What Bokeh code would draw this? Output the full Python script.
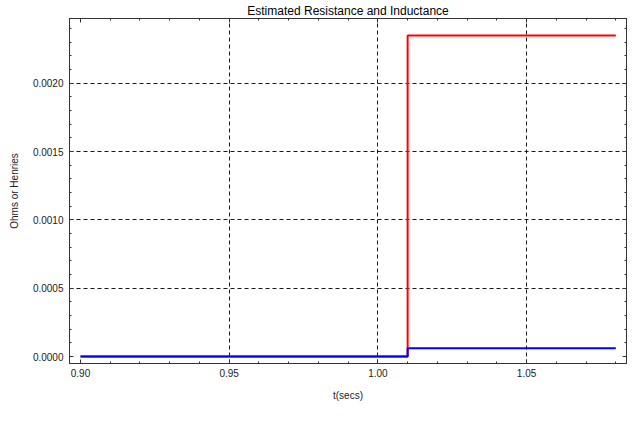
from bokeh.plotting import figure
from bokeh.models import (LinearAxis, FixedTicker, NumeralTickFormatter, Range1d,
                          Legend, LegendItem, ColumnDataSource)
from bokeh.embed import file_html
from bokeh.resources import INLINE

# ---- data ----
t = [0.90, 1.01, 1.08]
R = [0.0, 0.00235, 0.00235]
L = [0.0, 0.00006, 0.00006]

x_major = [0.90, 0.95, 1.00, 1.05]
x_minor = [round(0.90 + 0.01 * i, 2) for i in range(-1, 19)]
y_major = [0.0, 0.0005, 0.0010, 0.0015, 0.0020]
y_minor = [round(0.0001 * i, 4) for i in range(-1, 26)]
x_grid = [0.95, 1.00, 1.05]
y_grid = [0.0005, 0.0010, 0.0015, 0.0020]

FONT = "Liberation Sans"
AX_COLOR = "#333333"

p = figure(frame_width=557, frame_height=345, output_backend="svg", toolbar_location=None,
           x_range=Range1d(0.8963, 1.0836), y_range=Range1d(-0.0000512, 0.002474),
           min_border_left=69, min_border_right=6, min_border_top=18, min_border_bottom=0,
           x_axis_label="t(secs)", y_axis_label="Ohms or Henries")
p.background_fill_color = "white"
p.border_fill_color = "white"
p.outline_line_color = AX_COLOR

p.title.text = "Estimated Resistance and Inductance"
p.title.align = "center"
p.title.text_font = FONT
p.title.text_font_size = "12px"
p.title.text_font_style = "normal"
p.title.text_color = "black"
p.title.standoff = 2

src = ColumnDataSource(dict(t=t, R=R, L=L))
rR = p.step("t", "R", source=src, mode="after", line_color="#ff0000", line_width=2)
rL = p.step("t", "L", source=src, mode="after", line_color="#0000ff", line_width=2)


def style_axis(ax, ticks, minor, fmt, show_labels=True):
    ax.ticker = FixedTicker(ticks=ticks, minor_ticks=minor)
    ax.formatter = NumeralTickFormatter(format=fmt)
    ax.major_tick_in = 4
    ax.major_tick_out = 0
    ax.minor_tick_in = 2
    ax.minor_tick_out = 0
    ax.axis_line_color = AX_COLOR
    ax.major_tick_line_color = AX_COLOR
    ax.minor_tick_line_color = AX_COLOR
    ax.major_label_text_font = FONT
    ax.major_label_text_color = "#222222"
    ax.axis_label_text_font = FONT
    ax.axis_label_text_font_style = "normal"
    ax.axis_label_text_color = "#222222"
    if show_labels:
        ax.major_label_text_font_size = "10px"
        ax.axis_label_text_font_size = "10px"
    else:
        ax.major_label_text_alpha = 0
        ax.major_label_text_font_size = "1px"
        ax.major_label_standoff = 0


style_axis(p.xaxis[0], x_major, x_minor, "0.00")
style_axis(p.yaxis[0], y_major, y_minor, "0.0000")
p.xaxis[0].major_label_standoff = 5
p.xaxis[0].axis_label_standoff = 10
p.yaxis[0].major_label_standoff = 6
p.yaxis[0].axis_label_standoff = 10

top = LinearAxis()
style_axis(top, x_major, x_minor, "0.00", show_labels=False)
p.add_layout(top, "above")
right = LinearAxis()
style_axis(right, y_major, y_minor, "0.0000", show_labels=False)
p.add_layout(right, "right")

p.xgrid.ticker = FixedTicker(ticks=x_grid)
p.ygrid.ticker = FixedTicker(ticks=y_grid)
for g in (p.xgrid, p.ygrid):
    g.grid_line_color = "black"
    g.grid_line_dash = "4 3"
    g.grid_line_width = 1
    g.grid_line_alpha = 0.9

legend = Legend(items=[LegendItem(label="R", renderers=[rR]),
                       LegendItem(label="L", renderers=[rL])],
                orientation="horizontal", location=(206, 13))
legend.label_text_font = FONT
legend.label_text_font_size = "12px"
legend.label_text_color = "#222222"
legend.border_line_color = None
legend.background_fill_alpha = 0
legend.glyph_width = 20
legend.glyph_height = 14
legend.label_standoff = 8
legend.spacing = 10
legend.padding = 2
legend.margin = 0
p.add_layout(legend, "below")

open("out.html", "w").write(file_html(p, INLINE))
